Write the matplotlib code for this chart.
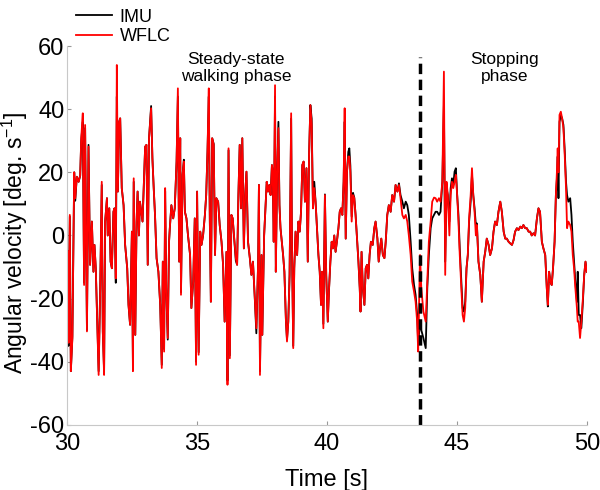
import numpy as np
import matplotlib
matplotlib.use("Agg")
import matplotlib.pyplot as plt

plt.rcParams['font.family'] = ['Liberation Sans', 'DejaVu Sans']
plt.rcParams['mathtext.fontset'] = 'custom'
plt.rcParams['mathtext.rm'] = 'Liberation Sans'
plt.rcParams['mathtext.it'] = 'Liberation Sans'
plt.rcParams['axes.unicode_minus'] = False

# time samples [s]
time = [
    30.00, 30.01, 30.03, 30.05, 30.10, 30.14, 30.20, 30.27, 30.31, 30.37, 30.44, 30.50, 30.54, 30.60, 30.65,
    30.69, 30.76, 30.82, 30.88, 30.95, 31.01, 31.05, 31.10, 31.15, 31.21, 31.27, 31.33, 31.37, 31.42, 31.46,
    31.53, 31.56, 31.62, 31.67, 31.72, 31.78, 31.82, 31.87, 31.91, 31.95, 32.00, 32.04, 32.10, 32.17, 32.23,
    32.31, 32.36, 32.42, 32.49, 32.53, 32.56, 32.62, 32.67, 32.71, 32.76, 32.80, 32.85, 32.90, 32.95, 33.00,
    33.05, 33.10, 33.15, 33.21, 33.23, 33.28, 33.33, 33.38, 33.44, 33.51, 33.58, 33.64, 33.68, 33.73, 33.77,
    33.81, 33.87, 33.92,
    33.95, 34.01, 34.08, 34.14, 34.21, 34.26, 34.31, 34.35, 34.38, 34.44, 34.49, 34.53, 34.59, 34.65, 34.73,
    34.78, 34.85, 34.91, 34.96, 35.00, 35.06, 35.12, 35.17, 35.23, 35.30, 35.35, 35.40, 35.45, 35.49, 35.53,
    35.58, 35.64, 35.69, 35.74, 35.81, 35.87, 35.94, 36.00, 36.06, 36.13, 36.17, 36.21, 36.26, 36.32, 36.37,
    36.42, 36.49, 36.54, 36.59, 36.64, 36.69, 36.74, 36.80, 36.85, 36.90, 36.96, 37.03, 37.09, 37.15, 37.22,
    37.28, 37.35, 37.38, 37.42, 37.48, 37.51, 37.58, 37.63, 37.68, 37.73, 37.78, 37.83, 37.88,
    37.91, 37.95, 38.00, 38.03, 38.08, 38.13, 38.17, 38.21, 38.26, 38.31, 38.36, 38.42, 38.46, 38.51, 38.56,
    38.62, 38.65, 38.70, 38.74, 38.79, 38.85, 38.90, 38.95, 39.00, 39.05, 39.10, 39.15, 39.21, 39.26, 39.31,
    39.36, 39.41, 39.46, 39.51, 39.56, 39.62, 39.67, 39.72, 39.77, 39.81, 39.86, 39.92, 39.97, 40.03, 40.08,
    40.13, 40.18, 40.23, 40.28, 40.33, 40.38, 40.44, 40.49, 40.54, 40.59, 40.64, 40.68, 40.72, 40.77, 40.82,
    40.86, 40.90, 40.95, 41.00, 41.05, 41.10, 41.15, 41.21, 41.26, 41.29, 41.33, 41.38, 41.44, 41.49, 41.54,
    41.59, 41.64, 41.69, 41.76, 41.82,
    41.87, 41.94, 41.99, 42.04, 42.09, 42.15, 42.21, 42.26, 42.32, 42.38, 42.45, 42.51, 42.58, 42.64, 42.71,
    42.77, 42.83, 42.90, 42.96, 43.03, 43.09, 43.15, 43.22, 43.28, 43.35, 43.41, 43.47, 43.51, 43.58, 43.63,
    43.71, 43.80, 43.86, 43.92, 43.99, 44.05, 44.12, 44.18, 44.24, 44.31, 44.37, 44.44, 44.50, 44.55, 44.60,
    44.65, 44.71, 44.76, 44.81, 44.86, 44.91, 44.96, 45.01, 45.06, 45.11, 45.17, 45.22, 45.27, 45.32, 45.37,
    45.42, 45.47, 45.53, 45.58, 45.63, 45.68, 45.73,
    45.77, 45.83, 45.90, 45.96, 46.03, 46.09, 46.15, 46.22, 46.28, 46.35, 46.41, 46.47, 46.54, 46.60, 46.67,
    46.73, 46.80, 46.86, 46.92, 46.99, 47.05, 47.12, 47.18, 47.24, 47.31, 47.37, 47.44, 47.50, 47.56, 47.63,
    47.69, 47.76, 47.82, 47.88, 47.95, 48.01, 48.08, 48.14, 48.20, 48.27, 48.33, 48.40, 48.46, 48.50, 48.55,
    48.60, 48.65, 48.70, 48.76, 48.81, 48.85, 48.88, 48.91, 48.95, 49.00, 49.05, 49.10, 49.15, 49.20, 49.24,
    49.29, 49.36, 49.41, 49.46, 49.51, 49.56, 49.62, 49.65, 49.69, 49.74, 49.79, 49.85, 49.90, 49.95, 50.00,
]

# angular velocity [deg/s], WFLC estimate (red)
wflc = [
    -18, -27, -5, -34, 6.5, -43, -32.5, 20, 11.8, 18.6, 17, 19, 30.8, 38.7, -15.7,
    35, -30.4, 28.1, -9.3, 4.4, -11.5, -3, -10.4, -25.2, -44.2, -16.7, 17, -30.4, -44.2, 4.4,
    11.8, 0, 8.6, -8.3, -10.4, 7.5, 8.6, -13.6, 54, 13.9, 36, 37.1, 15, 9.6, -3,
    -10.4, -22, -28.3, 1.2, -43, 18.1, -31.5, 4.4, 13.9, 0, 10.7, 7.5, 4.4, 16, 28.1,
    28.7, -9.3, 30.8, 38.2, 40.3, 24.4, 15, 6.5, -7.2, -11.5, -22, -42, -8.3, -36.8, 15,
    -16.7, -32.5, -2,
    2.3, 9.6, 5.4, 8.6, 23.4, 46.6, -8.3, 30.8, -18.8, 19.2, 23.4, 7.5, 5.4, 0, -6.2,
    -23, -14.6, 5.4, -41, 13.9, -37.8, 1.2, -3, 0, 6.5, 12.8, 26.5, 46.6, 4.4, -21,
    30.8, 28.7, -6.2, 11.8, 10.7, 3.3, -2, -9.3, -27.3, -5.2, -47.3, 27.6, -38.9, 6.5, 5.4,
    0, -7.2, -9.3, 12.8, 28.7, 8.6, 30.8, -4.1, 12.8, 20.2, -2, -7.2, -12.5, -8.3, -19.9,
    -29.4, -8.3, 16, -44.2, -6.2, -31.5, 0, 8.6, 17, 13.9, 16, 12.8, 22.3,
    20.2, -2, 47.6, -11.5, 19.2, 34, 9.6, 2.3, -2, -6.2, -11.5, -27.3, -33.6, -27.3, -12.5,
    38.7, -2, -35.7, -10.4, 1.2, -6.2, 4.4, 1.2, 7.5, 22.3, 23.4, 10.7, 21.3, -8.3, 25.5,
    41.3, 35, 8.6, 15, 10.7, 1.2, -6.2, -11.5, -22, -11.5, -29.4, 12.8, -12.5, -27.3, -16.7,
    -8.3, -2, -4.1, 0, -5.2, -2, 2.3, 7.5, 8.6, 6.5, 17, 40.3, -1, 20.2, 25,
    25, 20, 4.4, 12.8, 11.8, 6.5, 0, -8.3, -16.7, -24.1, -5.2, -16.7, -22, -10.4, -9.3,
    -13.6, -6.2, -2, -3, 2.3,
    4.4, -1, -8.3, -4.1, -1, -6.2, -7.2, -2, 6.5, 9.6, 7.5, 12.8, 10.7, 16, 13.9,
    16, 11.8, 6.5, 5.4, 6.5, 4.4, 0, -6.2, -14.6, -17.8, -21, -27.3, -36.8, -6.2, -16.7,
    -24.1, -27.3, -14.6, -2, 4.4, 10.7, 12, 11.8, 10.7, 11.8, 10.7, 17, 51.9, -12.5, 17,
    12.8, 0, 12.8, 17, 15, 17, 19.2, 12.8, 4.4, -6.2, -16.7, -25.2, -27.3, -23, -10.4,
    -6.2, 5.4, 12.8, 21.3, 12.8, 7.5, 0,
    3.3, -8.3, -12.5, -21, -8.3, -5.2, -1, -3, -6.2, -4.1, 1.2, 4.4, 3.3, 7.5, 10.7,
    7.5, 1.2, -1, -1, -2, -2.5, -3, -1.5, 1.2, 2.3, 1.7, 2.8, 2.3, 3.3, 2.3,
    2.3, 1.2, 1.2, 0, 0.7, 0, 5.4, 8.6, 7.5, -2, -4.1, -6.2, -16.7, -22, -11.5,
    -14.6, -15.7, -10.4, -2, 12.8, 20.2, 27.6, 20, 38.2, 39.2, 37.1, 34, 25.5, 15, 2.3,
    4.4, 3.3, 1.2, -6.2, -10.4, -16.7, -23, -27.3, -27.3, -32.5, -27.3, -19.9, -12.5, -8.3, -11.5,
]

# angular velocity [deg/s], IMU reference (black)
imu = [
    -18, -26, -5, -35, 6, -43, -32, 20, 11, 18.6, 17, 19, 30, 36, -15,
    34, -30, 28.7, -9.3, 4.4, -11.5, -3, -10.4, -25, -43, -16.7, 16, -30.4, -43, 4.4,
    11.8, 0, 8.6, -8.3, -10.4, 7.5, 8.6, -15, 44, 13.9, 36, 37.1, 15, 9.6, -3,
    -10.4, -22, -28.3, 1.2, -41, 17, -31.5, 4.4, 13.9, 0, 10.7, 7.5, 4.4, 16, 28.1,
    28.7, -9.3, 30.8, 38.2, 41, 24.4, 15, 6.5, -7.2, -11.5, -22, -41, -8.3, -36, 14,
    -16.7, -33, -2,
    2.3, 9.6, 5.4, 8.6, 23.4, 44, -8.3, 30.8, -18, 19.2, 24, 7.5, 5.4, 0, -6.2,
    -23, -14.6, 5.4, -40, 13.9, -37, 1.2, -3, 0, 6.5, 12.8, 26.5, 44, 4.4, -21,
    30.8, 29, -6.2, 11.8, 10.7, 3.3, -2, -9.3, -27.3, -5.2, -46, 27, -38, 6.5, 5.4,
    0, -8, -9.3, 12.8, 28.7, 8.6, 30.8, -4.1, 12.8, 20.2, -2, -7.2, -12.5, -8.3, -19.9,
    -31, -8.3, 16, -43, -6.2, -31.5, 0, 8.6, 17, 13.9, 16, 12.8, 22.3,
    20.2, -2, 44, -11.5, 19.2, 36, 9.6, 2.3, -2, -6.2, -11.5, -27.3, -33, -27.3, -12.5,
    37, -2, -35, -10.4, 1.2, -6.2, 4.4, 1.2, 7.5, 22.3, 23.4, 10.7, 21.3, -8.3, 25.5,
    41.3, 37, 8.6, 17, 10.7, 1.2, -6.2, -11.5, -22, -11.5, -28, 13, -12.5, -27.3, -16.7,
    -8.3, -2, -4.1, 0, -5.2, -2, 2.3, 7.5, 8.6, 6.5, 17, 36, -1, 20.2, 26.5,
    27.6, 22, 6, 13.5, 12, 6.5, 0, -8.3, -16.7, -24.1, -5.2, -16.7, -22, -10.4, -9.3,
    -13.6, -6.2, -2, -3, 2.3,
    4.4, -1, -8.3, -4.1, -1, -6.2, -7.2, -2, 6.5, 9.6, 7.5, 12.8, 10.7, 16, 13.9,
    16.5, 12.8, 10.7, 8.6, 10.7, 9.6, 6.5, -2, -10.4, -15.7, -18.8, -25.2, -34.7, -27.3, -30,
    -32.5, -35.7, -16.7, -6.2, 2.3, 5.4, 6.5, 7.5, 7.5, 6.5, 7.5, 17, 41.3, -8.3, 15,
    12.8, 4.4, 15, 18.1, 16, 20.2, 21.3, 12.8, 6.5, -4.1, -14.6, -23, -24.1, -21, -10.4,
    -6.2, 4.4, 10.7, 19.2, 12.8, 8.6, 3.3,
    3.8, -8.3, -12.5, -21, -8.3, -5.2, -1, -3, -6.2, -4.1, 1.2, 4.4, 3.3, 7.5, 10.7,
    7.5, 1.2, -1, -1, -2, -2.5, -3, -1.5, 1.2, 2.3, 1.7, 2.8, 2.3, 3.3, 2.3,
    2.3, 1.2, 1.2, 0, 0.7, 0, 5.4, 8.6, 7.5, -2, -4.1, -6.2, -16.7, -22.5, -11.5,
    -14.6, -15.7, -10.4, -2, 12.8, 18, 25, 11.8, 36, 38, 37.1, 35, 27, 17, 12.8,
    10.7, 11.8, 6.5, -2, -8.3, -14.6, -21, -11.5, -25.2, -25.2, -29.4, -21, -12.5, -8.3, -11.5,
]

stop_time = 43.58
phase_labels = ["Steady-state\nwalking phase", "Stopping\nphase"]
phase_x = [36.5, 46.85]

fig = plt.figure(figsize=(6, 4.9), dpi=100)
ax = fig.add_axes([0.112, 0.133, 0.866, 0.773])

ax.plot(time, imu, color='black', lw=1.3, label='IMU')
ax.plot(time, wflc, color='#ff0000', lw=1.3, label='WFLC')
ax.plot([stop_time, stop_time], [-60, 56.5], color='black', lw=2.5,
        linestyle=(0, (3, 1.6)))

for lab, px in zip(phase_labels, phase_x):
    ax.text(px, 58, lab, ha='center', va='top', fontsize=12.5, linespacing=1.1)

ax.set_xlim(30, 50)
ax.set_ylim(-60, 60)
ax.set_xticks([30, 35, 40, 45, 50])
ax.set_yticks([-60, -40, -20, 0, 20, 40, 60])

for s in ['top', 'right']:
    ax.spines[s].set_visible(False)
for s in ['left', 'bottom']:
    ax.spines[s].set_color('#c8c8c8')
ax.tick_params(direction='in', length=3, color='#999999', labelsize=17)
ax.tick_params(axis='x', pad=6)
ax.tick_params(axis='y', pad=2)

ax.set_xlabel('Time [s]', fontsize=17, labelpad=10)
ax.set_ylabel('Angular velocity [deg. s$^{-1}$]', fontsize=16.5)
ax.yaxis.set_label_coords(-0.072, 0.48)

fig.legend(loc='upper left', bbox_to_anchor=(0.115, 0.997), frameon=False,
           fontsize=13, handlelength=2.0, handletextpad=0.4, labelspacing=0.15,
           borderaxespad=0)

fig.savefig('out.png', dpi=100)
